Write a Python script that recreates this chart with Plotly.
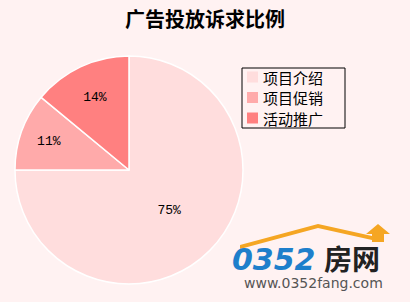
import plotly.graph_objects as go

title = "广告投放诉求比例"
categories = ["项目介绍", "项目促销", "活动推广"]
values = [75, 11, 14]
colors = ["#FFDDDD", "#FFAAAA", "#FF8080"]

W, H = 410, 302
fig = go.Figure(go.Pie(
    labels=categories, values=values, sort=False, direction="clockwise", rotation=0,
    marker=dict(colors=colors, line=dict(color="white", width=1.5)),
    texttemplate="%{percent:.0%}", textposition="inside", insidetextorientation="horizontal",
    textfont=dict(family="Liberation Mono, DejaVu Sans Mono", size=13, color="black"),
    domain=dict(x=[15 / W, 243 / W], y=[1 - 284 / H, 1 - 56 / H]),
    hoverinfo="skip", showlegend=False,
))

fig.update_layout(
    width=W, height=H, margin=dict(l=0, r=0, t=0, b=0),
    paper_bgcolor="#FFF2F2", plot_bgcolor="#FFF2F2",
    title=dict(text="<b>" + title + "</b>", x=0.5, xanchor="center", y=1 - 20 / H, yanchor="middle",
               font=dict(family="Noto Sans CJK SC", size=20, color="black")),
)

def px(x):
    return x / W

def py(y):
    return 1 - y / H

# legend box (drawn from the category/colour arrays)
fig.add_shape(type="rect", xref="paper", yref="paper",
              x0=px(242), x1=px(345), y0=py(68), y1=py(128),
              line=dict(color="black", width=1), fillcolor="rgba(0,0,0,0)")
for i, (cat, col) in enumerate(zip(categories, colors)):
    yc = 77 + i * 20.5
    fig.add_shape(type="rect", xref="paper", yref="paper",
                  x0=px(247), x1=px(258), y0=py(yc + 5.5), y1=py(yc - 5.5),
                  line=dict(width=0), fillcolor=col)
    fig.add_annotation(x=px(261), y=py(yc), xref="paper", yref="paper", xanchor="left", yanchor="middle",
                       text=cat, showarrow=False,
                       font=dict(family="Noto Sans CJK SC", size=15, color="black"))

# watermark logo (text-based)
fig.add_shape(type="path", xref="paper", yref="paper",
              path=f"M {px(240)} {py(245)} L {px(318)} {py(224)} L {px(372)} {py(236)} L {px(372)} {py(240)} L {px(318)} {py(228)} L {px(240)} {py(249)} Z",
              fillcolor="#F5A623", line=dict(width=0))
fig.add_shape(type="path", xref="paper", yref="paper",
              path=f"M {px(366)} {py(234)} L {px(378)} {py(224)} L {px(390)} {py(234)} L {px(384)} {py(234)} L {px(384)} {py(242)} L {px(372)} {py(242)} L {px(372)} {py(234)} Z",
              fillcolor="#F5A623", line=dict(width=0))
fig.add_annotation(x=px(230), y=py(259), xref="paper", yref="paper", xanchor="left", yanchor="middle",
                   text="<b><i>0352</i></b>", showarrow=False,
                   font=dict(family="DejaVu Sans", size=30, color="#1E7FCB"))
fig.add_annotation(x=px(322), y=py(258), xref="paper", yref="paper", xanchor="left", yanchor="middle",
                   text="<b>房网</b>", showarrow=False,
                   font=dict(family="Noto Sans CJK SC", size=28, color="#222222"))
fig.add_annotation(x=px(313), y=py(283), xref="paper", yref="paper", xanchor="center", yanchor="middle",
                   text="www.0352fang.com", showarrow=False,
                   font=dict(family="DejaVu Sans", size=14, color="#555555"))

fig.write_html("out.html")
